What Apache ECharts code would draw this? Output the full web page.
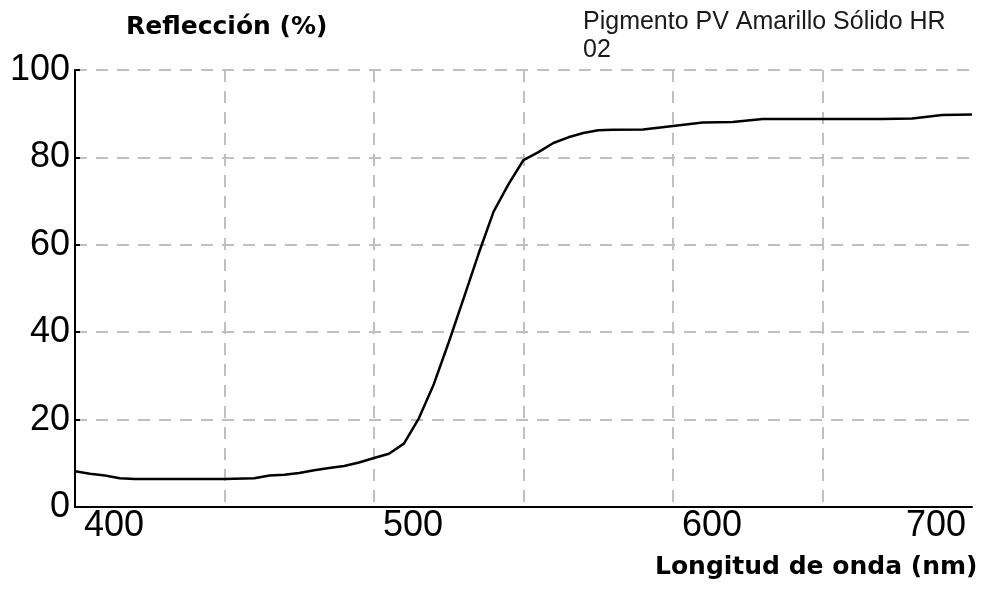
<!DOCTYPE html>
<html>
<head>
<meta charset="utf-8">
<script src="https://cdn.jsdelivr.net/npm/echarts@6/dist/echarts.min.js"></script>
<style>
html,body{margin:0;padding:0;background:#fff;}
#chart{width:991px;height:589px;}
</style>
</head>
<body>
<div id="chart"></div>
<script>
const wavelengths = [400,405,410,415,420,430,440,450,460,465,470,475,480,485,490,495,500,505,510,515,520,525,530,535,540,545,550,555,560,565,570,575,580,590,600,610,620,630,640,650,660,670,680,690,700];
const reflectance = [8.2,7.6,7.2,6.6,6.4,6.4,6.4,6.4,6.6,7.2,7.4,7.8,8.4,8.9,9.4,10.2,11.2,12.2,14.5,20.3,28.1,37.7,47.8,58,67.6,73.9,79.4,81.2,83.3,84.6,85.6,86.2,86.3,86.4,87.2,88,88.1,88.8,88.8,88.8,88.8,88.8,88.9,89.7,89.8];
const xTickLabels = [400,500,600,700];
const yTickLabels = [0,20,40,60,80,100];
const chartTitle = 'Pigmento PV Amarillo Sólido HR\n02';
const yName = 'Reflección (%)';
const xName = 'Longitud de onda (nm)';

const chart = echarts.init(document.getElementById('chart'), null, {renderer:'canvas'});
const gridDash = {color:'#c0c0c0', width:2, type:[12,9]};
chart.setOption({
  animation:false,
  backgroundColor:'#ffffff',
  title:[
    {text:chartTitle, left:583, top:8, padding:0,
     textStyle:{fontFamily:'Liberation Sans', fontSize:25, fontWeight:'normal', color:'#1a1a1a', lineHeight:28}},
    {text:yName, left:126, top:15, padding:0,
     textStyle:{fontFamily:'DejaVu Sans', fontSize:25, fontWeight:'bold', color:'#000'}},
    {text:xName, left:655, top:555, padding:0,
     textStyle:{fontFamily:'DejaVu Sans', fontSize:25, fontWeight:'bold', color:'#000'}}
  ],
  grid:{left:75, right:19, top:70, bottom:82, containLabel:false},
  xAxis:{
    type:'value', min:400, max:700, interval:50,
    axisLine:{show:true, onZero:false, lineStyle:{color:'#000', width:2}},
    axisTick:{show:false},
    splitLine:{show:true, showMaxLine:false, showMinLine:false, lineStyle:gridDash},
    axisLabel:{
      show:true, margin:1, align:'left', padding:[0,6,0,9], alignMaxLabel:'right',
      fontFamily:'Liberation Sans', fontSize:36, color:'#000',
      formatter:v => xTickLabels.includes(v) ? String(v) : ''
    }
  },
  yAxis:{
    type:'value', min:0, max:100, interval:20,
    axisLine:{show:true, lineStyle:{color:'#000', width:2}},
    axisTick:{show:true, inside:true, length:5, lineStyle:{color:'#000', width:2}},
    splitLine:{show:true, showMinLine:false, lineStyle:gridDash},
    axisLabel:{
      show:true, margin:5,
      fontFamily:'Liberation Sans', fontSize:36, color:'#000',
      formatter:v => yTickLabels.includes(v) ? String(v) : ''
    }
  },
  series:[{
    type:'line',
    data:wavelengths.map((w,i)=>[w, reflectance[i]]),
    showSymbol:false,
    smooth:false,
    lineStyle:{color:'#000', width:2.5},
    clip:true
  }]
});
</script>
</body>
</html>
